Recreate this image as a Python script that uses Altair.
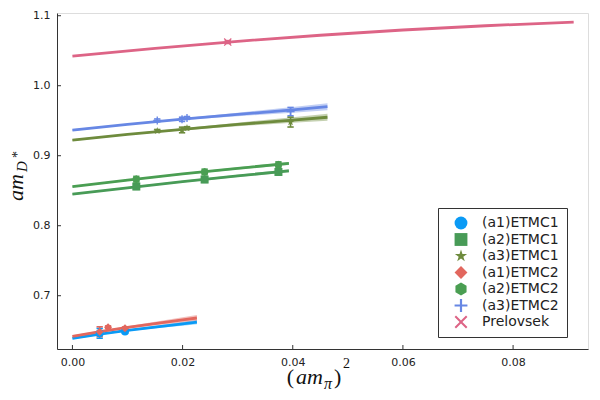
import altair as alt
import pandas as pd

# ---------------- series definitions ----------------
SERIES = ["(a1)ETMC1", "(a2)ETMC1", "(a3)ETMC1", "(a1)ETMC2", "(a2)ETMC2", "(a3)ETMC2", "Prelovsek"]
COLORS = ["#0A9AF5", "#489B57", "#6E8B3D", "#E2675E", "#4A9E52", "#6787E4", "#DD6486"]
STAR = "M0,-1L0.2245,-0.309L0.951,-0.309L0.3633,0.118L0.5878,0.809L0,0.382L-0.5878,0.809L-0.3633,0.118L-0.951,-0.309L-0.2245,-0.309Z"
HEX = "M0,-1L0.866,-0.5L0.866,0.5L0,1L-0.866,0.5L-0.866,-0.5Z"
PLUS = "M-1,-0.17L-0.17,-0.17L-0.17,-1L0.17,-1L0.17,-0.17L1,-0.17L1,0.17L0.17,0.17L0.17,1L-0.17,1L-0.17,0.17L-1,0.17Z"
XMARK = "M-1,-0.78L-0.78,-1L0,-0.22L0.78,-1L1,-0.78L0.22,0L1,0.78L0.78,1L0,0.22L-0.78,1L-1,0.78L-0.22,0Z"
SHAPES = ["circle", "square", STAR, "diamond", HEX, PLUS, XMARK]
BAND_ALPHA = "66"

# ---------------- fit curves ----------------
a1_fit_x = [0.0, 0.005, 0.01, 0.015, 0.02, 0.0226]
a1e1_fit_y = [0.6390, 0.6450, 0.6505, 0.6553, 0.6598, 0.6622]
a1e1_fit_err = [0.0012, 0.0010, 0.0012, 0.0018, 0.0026, 0.0030]
a1e2_fit_y = [0.6420, 0.6487, 0.6548, 0.6603, 0.6655, 0.6682]
a1e2_fit_err = [0.0015, 0.0012, 0.0015, 0.0025, 0.0036, 0.0042]

a2_fit_x = [0.0, 0.01, 0.02, 0.03, 0.0393]
a2e1_fit_y = [0.8450, 0.8542, 0.8630, 0.8712, 0.8785]
a2e1_fit_err = [0.0012, 0.0010, 0.0011, 0.0016, 0.0022]
a2e2_fit_y = [0.8560, 0.8650, 0.8740, 0.8820, 0.8890]
a2e2_fit_err = [0.0012, 0.0010, 0.0011, 0.0016, 0.0022]

a3_fit_x = [0.0, 0.01, 0.02, 0.03, 0.04, 0.0463]
a3e1_fit_y = [0.9224, 0.9305, 0.9378, 0.9447, 0.9510, 0.9550]
a3e1_fit_err = [0.0012, 0.0010, 0.0013, 0.0025, 0.0040, 0.0050]
a3e2_fit_y = [0.9367, 0.9448, 0.9522, 0.9590, 0.9655, 0.9700]
a3e2_fit_err = [0.0012, 0.0010, 0.0013, 0.0025, 0.0040, 0.0050]

prel_fit_x = [0.0, 0.015, 0.03, 0.045, 0.06, 0.075, 0.091]
prel_fit_y = [1.0424, 1.0535, 1.0635, 1.0721, 1.0796, 1.0857, 1.0910]
prel_fit_err = [0, 0, 0, 0, 0, 0, 0]

# ---------------- data points ----------------
a1e1_x = [0.00495, 0.00955]
a1e1_y = [0.6463, 0.6490]
a1e1_err = [0.0070, 0.0025]
a1e2_x = [0.00495, 0.00647, 0.00955]
a1e2_y = [0.6486, 0.6549, 0.6534]
a1e2_err = [0.0070, 0.0020, 0.0020]

a2e1_x = [0.0116, 0.0240, 0.0374]
a2e1_y = [0.8560, 0.8660, 0.8768]
a2e1_err = [0.0040, 0.0040, 0.0040]
a2e2_x = [0.0116, 0.0240, 0.0374]
a2e2_y = [0.8665, 0.8768, 0.8872]
a2e2_err = [0.0040, 0.0040, 0.0040]

a3e1_x = [0.0154, 0.0199, 0.0208, 0.0396]
a3e1_y = [0.9355, 0.9368, 0.9395, 0.9480]
a3e1_err = [0.0020, 0.0040, 0.0020, 0.0070]
a3e2_x = [0.0154, 0.0199, 0.0208, 0.0396]
a3e2_y = [0.9505, 0.9520, 0.9540, 0.9630]
a3e2_err = [0.0020, 0.0030, 0.0020, 0.0060]

prel_x = [0.0282]
prel_y = [1.0624]
prel_err = [0.0020]

x_ticks = [0.0, 0.02, 0.04, 0.06, 0.08]
y_ticks = [0.7, 0.8, 0.9, 1.0, 1.1]
X_DOMAIN = [-0.0028, 0.0936]
Y_DOMAIN = [0.6239, 1.1039]
W, H = 531, 336

color_of = dict(zip(SERIES, COLORS))

fits = [
    ("(a1)ETMC1", a1_fit_x, a1e1_fit_y, a1e1_fit_err),
    ("(a1)ETMC2", a1_fit_x, a1e2_fit_y, a1e2_fit_err),
    ("(a2)ETMC1", a2_fit_x, a2e1_fit_y, a2e1_fit_err),
    ("(a2)ETMC2", a2_fit_x, a2e2_fit_y, a2e2_fit_err),
    ("(a3)ETMC1", a3_fit_x, a3e1_fit_y, a3e1_fit_err),
    ("(a3)ETMC2", a3_fit_x, a3e2_fit_y, a3e2_fit_err),
    ("Prelovsek", prel_fit_x, prel_fit_y, prel_fit_err),
]
rows = []
for name, xs_, ys_, es_ in fits:
    for xv, yv, ev in zip(xs_, ys_, es_):
        rows.append({"series": name, "col": color_of[name],
                     "bcol": color_of[name] + BAND_ALPHA, "x": xv, "y": yv,
                     "lo": yv - ev, "hi": yv + ev})
fit_df = pd.DataFrame(rows)

pts = [
    ("(a1)ETMC1", a1e1_x, a1e1_y, a1e1_err),
    ("(a2)ETMC1", a2e1_x, a2e1_y, a2e1_err),
    ("(a3)ETMC1", a3e1_x, a3e1_y, a3e1_err),
    ("(a1)ETMC2", a1e2_x, a1e2_y, a1e2_err),
    ("(a2)ETMC2", a2e2_x, a2e2_y, a2e2_err),
    ("(a3)ETMC2", a3e2_x, a3e2_y, a3e2_err),
    ("Prelovsek", prel_x, prel_y, prel_err),
]
rows = []
for name, xs_, ys_, es_ in pts:
    for xv, yv, ev in zip(xs_, ys_, es_):
        rows.append({"series": name, "col": color_of[name], "x": xv, "y": yv,
                     "lo": yv - ev, "hi": yv + ev})
pt_df = pd.DataFrame(rows)

xs = alt.Scale(domain=X_DOMAIN, nice=False, zero=False)
ys = alt.Scale(domain=Y_DOMAIN, nice=False, zero=False)

X = alt.X("x:Q", scale=xs,
          axis=alt.Axis(values=x_ticks, format=".2f", title=None, grid=False,
                        tickSize=0, labelPadding=7, domainColor="#333",
                        labelColor="#222", labelFontSize=11, labelFont="DejaVu Sans"))
Y = alt.Y("y:Q", scale=ys,
          axis=alt.Axis(values=y_ticks, format=".1f", title=None, grid=False,
                        tickSize=0, labelPadding=7, domainColor="#333",
                        labelColor="#222", labelFontSize=11, labelFont="DejaVu Sans"))
NOC = alt.Color("col:N", scale=None)

bands = alt.Chart(fit_df).mark_area(opacity=1).encode(
    x=X, y=alt.Y("lo:Q", scale=ys), y2="hi:Q",
    color=alt.Color("bcol:N", scale=None), detail="series:N"
)

lines = alt.Chart(fit_df).mark_line(strokeWidth=2.8, opacity=1).encode(
    x=X, y=Y, color=NOC, detail="series:N"
)

ebars = alt.Chart(pt_df).mark_rule(strokeWidth=1.6, opacity=1).encode(
    x=X, y=alt.Y("lo:Q", scale=ys), y2="hi:Q", color=NOC
)
cap_lo = alt.Chart(pt_df).mark_point(shape="stroke", size=40, strokeWidth=1.6, opacity=1).encode(
    x=X, y=alt.Y("lo:Q", scale=ys), color=NOC
)
cap_hi = alt.Chart(pt_df).mark_point(shape="stroke", size=40, strokeWidth=1.6, opacity=1).encode(
    x=X, y=alt.Y("hi:Q", scale=ys), color=NOC
)

LEG = alt.Legend(title=None, orient="none", legendX=381, legendY=195,
                 strokeColor="#333", fillColor="white", padding=8,
                 symbolSize=165, symbolOffset=8, labelOffset=14,
                 labelFontSize=14, labelFont="DejaVu Sans",
                 labelColor="#222", rowPadding=2.5,
                 symbolStrokeWidth=0, symbolOpacity=1)

points = alt.Chart(pt_df).mark_point(filled=True, size=64, opacity=1, fillOpacity=1).encode(
    x=X, y=Y,
    color=alt.Color("series:N", scale=alt.Scale(domain=SERIES, range=COLORS), legend=LEG),
    shape=alt.Shape("series:N", scale=alt.Scale(domain=SERIES, range=SHAPES), legend=LEG),
)

# inward ticks
xt = alt.Chart(pd.DataFrame({"x": x_ticks})).mark_rule(color="#333", strokeWidth=1).encode(
    x=alt.X("x:Q", scale=xs), y=alt.value(H), y2=alt.value(H - 4))
yt = alt.Chart(pd.DataFrame({"y": y_ticks})).mark_rule(color="#333", strokeWidth=1).encode(
    y=alt.Y("y:Q", scale=ys), x=alt.value(0), x2=alt.value(4))

SERIF = "Liberation Serif"


def piece(s, x, y, size, italic=False, angle=0, align="left"):
    return alt.Chart(pd.DataFrame({"t": [s]})).mark_text(
        font=SERIF, fontStyle="italic" if italic else "normal", fontSize=size,
        angle=angle, align=align, baseline="alphabetic", color="#111"
    ).encode(text="t:N", x=alt.value(x), y=alt.value(y))


# x title: (am_pi)^2
xtitle = [
    piece("(", 237, 371, 22, align="right"),
    piece("am", 239, 371, 22, italic=True),
    piece("π", 267, 376, 16, italic=True),
    piece(")", 277, 371, 22),
    piece("2", 286, 355, 14),
]
# y title: am_{D^*}
ytitle = [
    piece("am", -34, 188, 22, italic=True, angle=270),
    piece("D", -30, 159, 15, italic=True, angle=270),
    piece("*", -35, 145, 14, angle=270),
]

chart = alt.layer(
    bands, lines, ebars, cap_lo, cap_hi, points, xt, yt, *xtitle, *ytitle
).properties(
    width=W, height=H,
    autosize=alt.AutoSizeParams(type="none"),
    padding={"left": 49, "top": 5, "right": 4, "bottom": 43},
).configure_view(stroke=None).configure_legend(symbolOpacity=1).configure(background="white")

chart.save("out.html", embed_options={"renderer": "svg", "actions": False})
